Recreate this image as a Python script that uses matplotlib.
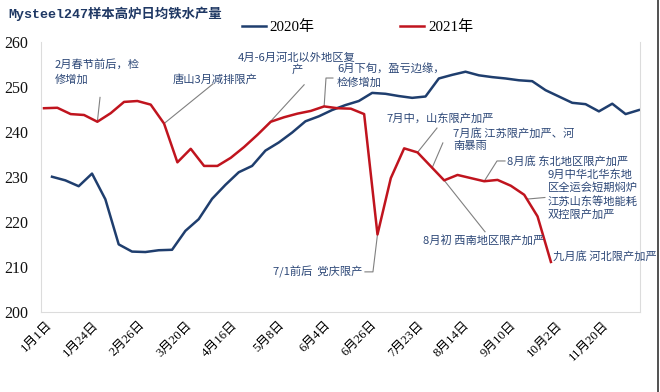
import numpy as np
import matplotlib
matplotlib.use("Agg")
import matplotlib.pyplot as plt
from matplotlib.lines import Line2D

plt.rcParams['font.family'] = ['Liberation Serif', 'Noto Sans CJK SC', 'DejaVu Sans']

# x axis labels (every ~3.5 weeks)
dates = ['1月1日', '1月24日', '2月26日', '3月20日', '4月16日', '5月8日', '6月4日',
         '6月26日', '7月23日', '8月14日', '9月10日', '10月2日', '11月20日']

# weekly values, 2020 (blue) and 2021 (red)
y2020 = [230.0, 229.2, 227.9, 230.7, 225.0, 215.0, 213.4, 213.3, 213.7, 213.8,
         218.0, 220.6, 225.1, 228.2, 231.0, 232.4, 235.8, 237.6, 239.8, 242.3,
         243.4, 244.8, 245.9, 246.8, 248.6, 248.4, 247.9, 247.5, 247.8, 251.8,
         252.6, 253.3, 252.5, 252.1, 251.8, 251.4, 251.2, 249.2, 247.8, 246.4,
         246.1, 244.5, 246.2, 243.9, 244.8]
y2021 = [245.2, 245.3, 243.9, 243.7, 242.2, 244.1, 246.6, 246.8, 246.0, 241.8,
         233.2, 236.2, 232.4, 232.4, 234.2, 236.6, 239.3, 242.2, 243.2, 244.0,
         244.6, 245.6, 245.2, 245.1, 243.9, 217.2, 229.7, 236.3, 235.4, 232.3,
         229.2, 230.4, 229.7, 229.0, 229.3, 228.0, 226.0, 221.2, 211.1]

x2021 = np.arange(len(y2021))
x2020 = np.arange(len(y2020)) + 0.6

BLUE = '#1f3e6e'
RED = '#c0141e'
NOTE = '#2c4777'
LEAD = '#808080'

fig = plt.figure(figsize=(6.6, 3.92), dpi=100)
ax = fig.add_axes([41 / 660, 1 - 312 / 392, 599 / 660, 270.5 / 392])

l1, = ax.plot(x2020, y2020, color=BLUE, lw=1.8, label='2020年')
l2, = ax.plot(x2021, y2021, color=RED, lw=1.8, label='2021年')

ax.set_xlim(-0.225, 44.68)
ax.set_ylim(200, 260)
ax.set_yticks([200, 210, 220, 230, 240, 250, 260])
ax.set_xticks(0.15 + np.arange(len(dates)) * 3.478)
ax.set_xticklabels(dates, rotation=45, ha='right', va='top', rotation_mode='anchor',
                   fontsize=9.2)
ax.tick_params(axis='x', length=0, pad=5)
ax.tick_params(axis='y', length=0, pad=9, labelsize=11.5)
for lab in ax.get_yticklabels():
    lab.set_color('#111111')
for s in ['left', 'bottom', 'right']:
    ax.spines[s].set_color('#dcdcdc')
ax.spines['top'].set_visible(False)


def red_at(k):
    return np.interp(k, x2021, y2021)


def leader(pts, k):
    xs = [p[0] for p in pts] + [k]
    ys = [p[1] for p in pts] + [red_at(k)]
    ax.plot(xs, ys, color=LEAD, lw=0.8, zorder=1)


fs = 8.1
tk = dict(color=NOTE, fontsize=fs, family=['Noto Sans CJK SC', 'DejaVu Sans'])

ax.text(0.82, 256.1, '2月春节前后，检\n修增加', ha='left', va='top', linespacing=1.5, **tk)
leader([(4.2, 247.6)], 4)

ax.text(9.67, 251.5, '唐山3月减排限产', ha='left', va='center', **tk)
leader([(12.67, 250.6)], 9)

ax.text(18.97, 257.6, '4月-6月河北以外地区复\n产', ha='center', va='top',
        multialignment='center', linespacing=1.2, **tk)
leader([(19.5, 250.4)], 16.6)

ax.text(21.96, 255.2, '6月下旬，盈亏边缘，\n检修增加', ha='left', va='top', linespacing=1.35, **tk)
leader([(21.66, 251.9), (21.14, 251.9)], 21)

ax.text(17.17, 208.9, '7/1前后  党庆限产', ha='left', va='center', **tk)
leader([(24.06, 208.9), (24.66, 208.9)], 25)

ax.text(25.7, 243.0, '7月中，山东限产加严', ha='left', va='center', **tk)
leader([(29.46, 240.8)], 28)

ax.text(30.66, 240.8, '7月底 江苏限产加严、河\n南暴雨', ha='left', va='top', linespacing=1.3, **tk)
leader([(29.9, 237.5)], 29.1)

ax.text(28.4, 216.0, '8月初 西南地区限产加严', ha='left', va='center', **tk)
leader([(33.06, 217.8)], 30)

ax.text(34.7, 233.5, '8月底 东北地区限产加严', ha='left', va='center', **tk)
leader([(34.56, 233.5), (33.96, 233.5)], 33)

ax.text(37.78, 231.6, '9月中华北华东地\n区全运会短期焖炉\n江苏山东等地能耗\n双控限产加严',
        ha='left', va='top', linespacing=1.3, **tk)
leader([(37.55, 225.4)], 36.2)

ax.text(38.16, 212.3, '九月底 河北限产加严', ha='left', va='center', **tk)

fig.text(8 / 660, 1 - 14 / 392, 'Mysteel247样本高炉日均铁水产量', ha='left', va='center',
         fontsize=9.6, weight='bold', color='#1f3864',
         family=['Liberation Mono', 'Noto Sans CJK SC'])

fig.legend(handles=[l1, l2], loc='center left', bbox_to_anchor=(242 / 660, 1 - 27 / 392),
           ncol=2, frameon=False, fontsize=10.8, handlelength=1.6, handletextpad=0.25,
           columnspacing=5.7, borderpad=0, borderaxespad=0)

fig.add_artist(Line2D([0.997, 0.997], [0, 1], color='#333333', lw=1.2))

fig.savefig('out.png', dpi=100)
